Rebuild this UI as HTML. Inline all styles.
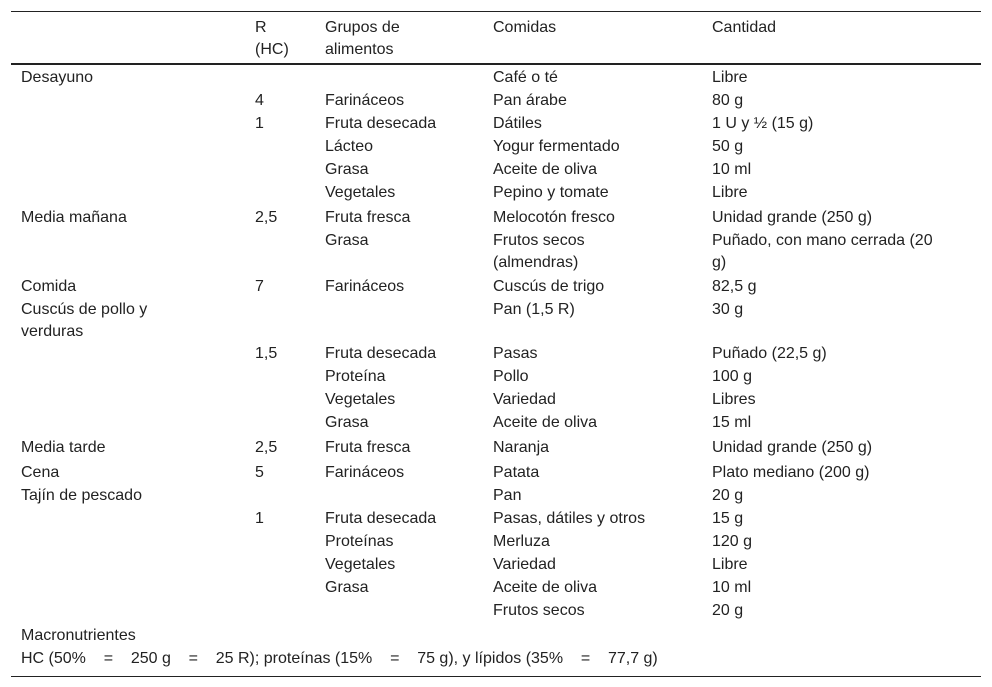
<!DOCTYPE html>
<html><head><meta charset="utf-8"><style>
body{margin:0;width:992px;height:687px;background:#fff;position:relative;overflow:hidden;font-family:"Liberation Sans",sans-serif;font-size:16px;color:#222}
.c{position:absolute;line-height:22px;white-space:nowrap}
.ln{position:absolute;left:11px;width:970px;background:#222}
</style></head><body>
<div class="ln" style="top:11px;height:1px"></div>
<div class="ln" style="top:63px;height:2px"></div>
<div class="ln" style="top:676px;height:1px"></div>
<script>
const colX=[21,255,325,493,712];
const rows=[
["","R<br>(HC)","Grupos de<br>alimentos","Comidas","Cantidad",27],
["Desayuno","","","Café o té","Libre",77],
["","4","Farináceos","Pan árabe","80 g",100],
["","1","Fruta desecada","Dátiles","1 U y ½ (15 g)",123],
["","","Lácteo","Yogur fermentado","50 g",146],
["","","Grasa","Aceite de oliva","10 ml",169],
["","","Vegetales","Pepino y tomate","Libre",192],
["Media mañana","2,5","Fruta fresca","Melocotón fresco","Unidad grande (250 g)",217],
["","","Grasa","Frutos secos<br>(almendras)","Puñado, con mano cerrada (20<br>g)",240],
["Comida","7","Farináceos","Cuscús de trigo","82,5 g",286],
["Cuscús de pollo y<br>verduras","","","Pan (1,5 R)","30 g",309],
["","1,5","Fruta desecada","Pasas","Puñado (22,5 g)",353],
["","","Proteína","Pollo","100 g",376],
["","","Vegetales","Variedad","Libres",399],
["","","Grasa","Aceite de oliva","15 ml",422],
["Media tarde","2,5","Fruta fresca","Naranja","Unidad grande (250 g)",447],
["Cena","5","Farináceos","Patata","Plato mediano (200 g)",472],
["Tajín de pescado","","","Pan","20 g",495],
["","1","Fruta desecada","Pasas, dátiles y otros","15 g",518],
["","","Proteínas","Merluza","120 g",541],
["","","Vegetales","Variedad","Libre",564],
["","","Grasa","Aceite de oliva","10 ml",587],
["","","","Frutos secos","20 g",610],
["Macronutrientes","","","","",635],
["HC (50%&nbsp;&nbsp;&nbsp; =&nbsp;&nbsp;&nbsp; 250 g&nbsp;&nbsp;&nbsp; =&nbsp;&nbsp;&nbsp; 25 R); proteínas (15%&nbsp;&nbsp;&nbsp; =&nbsp;&nbsp;&nbsp; 75 g), y lípidos (35%&nbsp;&nbsp;&nbsp; =&nbsp;&nbsp;&nbsp; 77,7 g)","","","","",658]
];
const names=["meal","r-hc","food-group","food","quantity"];
rows.forEach((r,i)=>{
  for(let k=0;k<5;k++){
    if(!r[k])continue;
    const d=document.createElement('div');
    d.className='c';
    d.style.left=colX[k]+'px';
    d.style.top=(r[5]-10)+'px';
    d.innerHTML=r[k];
    
    
    document.body.appendChild(d);
  }
});
</script>
</body></html>
